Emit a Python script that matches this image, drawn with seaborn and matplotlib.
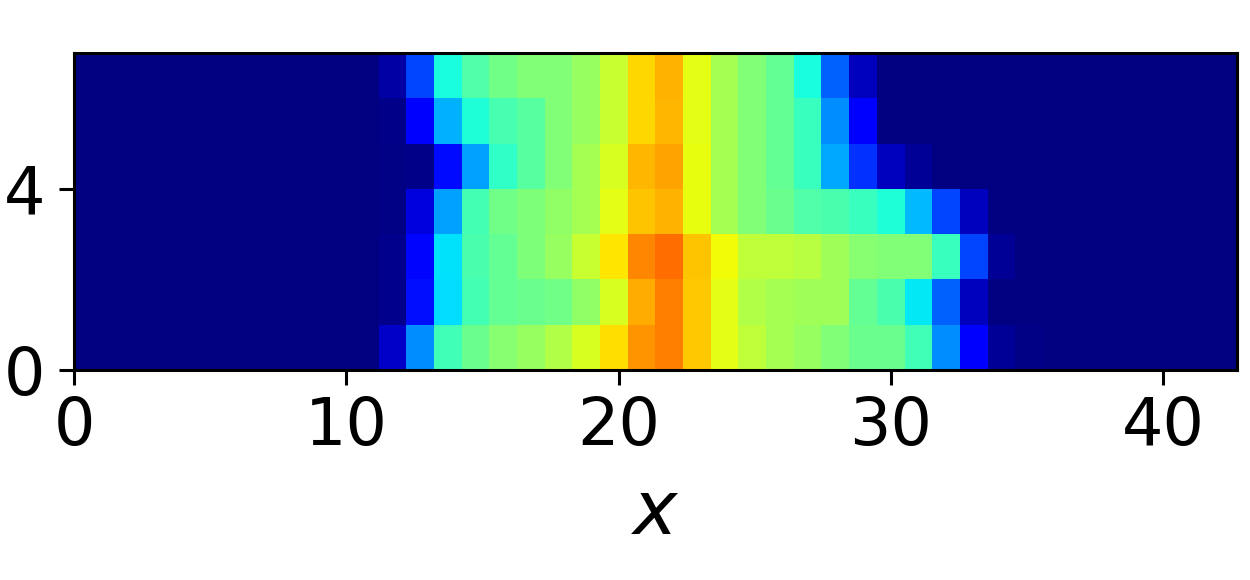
import matplotlib
matplotlib.use("Agg")
import matplotlib.pyplot as plt
import numpy as np
import seaborn as sns

# cell values (normalised 0..1, jet colormap), rows listed from y=0 upward
row_0 = [0, 0, 0, 0, 0, 0, 0, 0, 0, 0, 0,
         0.065, 0.265, 0.428, 0.48, 0.515, 0.535, 0.563, 0.613, 0.673, 0.753, 0.775, 0.697,
         0.625, 0.58, 0.55, 0.535, 0.505, 0.48, 0.48, 0.428, 0.265, 0.115, 0.02, 0.005,
         0, 0, 0, 0, 0, 0, 0]
row_1 = [0, 0, 0, 0, 0, 0, 0, 0, 0, 0, 0,
         0.012, 0.14, 0.34, 0.43, 0.47, 0.48, 0.485, 0.525, 0.613, 0.73, 0.775, 0.697,
         0.625, 0.563, 0.55, 0.545, 0.545, 0.47, 0.44, 0.353, 0.22, 0.055, 0.003, 0,
         0, 0, 0, 0, 0, 0, 0]
row_2 = [0, 0, 0, 0, 0, 0, 0, 0, 0, 0, 0,
         0.015, 0.13, 0.345, 0.44, 0.47, 0.5, 0.535, 0.593, 0.665, 0.767, 0.794, 0.70,
         0.643, 0.58, 0.58, 0.572, 0.545, 0.515, 0.505, 0.505, 0.418, 0.195, 0.02, 0,
         0, 0, 0, 0, 0, 0, 0]
row_3 = [0, 0, 0, 0, 0, 0, 0, 0, 0, 0, 0,
         0.005, 0.083, 0.282, 0.43, 0.486, 0.5, 0.525, 0.55, 0.625, 0.70, 0.72, 0.632,
         0.55, 0.505, 0.48, 0.447, 0.44, 0.418, 0.39, 0.305, 0.195, 0.055, 0, 0,
         0, 0, 0, 0, 0, 0, 0]
row_4 = [0, 0, 0, 0, 0, 0, 0, 0, 0, 0, 0,
         0.005, 0.01, 0.135, 0.282, 0.41, 0.457, 0.505, 0.55, 0.613, 0.715, 0.737, 0.632,
         0.55, 0.505, 0.47, 0.418, 0.29, 0.172, 0.055, 0.02, 0, 0, 0, 0,
         0, 0, 0, 0, 0, 0, 0]
row_5 = [0, 0, 0, 0, 0, 0, 0, 0, 0, 0, 0,
         0.01, 0.12, 0.297, 0.39, 0.435, 0.457, 0.505, 0.535, 0.593, 0.68, 0.715, 0.625,
         0.55, 0.505, 0.47, 0.418, 0.265, 0.115, 0, 0, 0, 0, 0, 0,
         0, 0, 0, 0, 0, 0, 0]
row_6 = [0, 0, 0, 0, 0, 0, 0, 0, 0, 0, 0,
         0.035, 0.195, 0.38, 0.447, 0.486, 0.505, 0.505, 0.535, 0.593, 0.68, 0.72, 0.625,
         0.55, 0.505, 0.47, 0.38, 0.22, 0.055, 0, 0, 0, 0, 0, 0,
         0, 0, 0, 0, 0, 0, 0]

x_max = 42.7          # data extent of the x axis
x_ticks = [0, 10, 20, 30, 40]
y_ticks = [0, 4]
x_label = "$x$"

grid = np.array([row_0, row_1, row_2, row_3, row_4, row_5, row_6])
n_rows, n_cols = grid.shape
cell_w = x_max / n_cols

fig = plt.figure(figsize=(6.25, 2.9), dpi=200)
ax = fig.add_axes([0.0592, 0.362, 0.9302, 0.5466])

sns.heatmap(grid, cmap="jet", vmin=0, vmax=1, cbar=False, ax=ax,
            xticklabels=False, yticklabels=False)
ax.set_ylim(0, n_rows)
ax.set_xlim(0, n_cols)

for s in ax.spines.values():
    s.set_visible(True)
    s.set_color("black")
    s.set_linewidth(1.1)

ax.set_xticks([t / cell_w for t in x_ticks])
ax.set_xticklabels([str(t) for t in x_ticks])
ax.set_yticks(y_ticks)
ax.set_yticklabels([str(t) for t in y_ticks], rotation=0)
ax.tick_params(axis="both", direction="out", length=5.4, width=1.1,
               colors="black", labelsize=23.5)
ax.tick_params(axis="x", pad=3.5)
ax.tick_params(axis="y", pad=5)
ax.set_xlabel(x_label, fontsize=27, labelpad=6.5)
ax.set_ylabel("")

fig.savefig("out.png", dpi=200)
plt.close(fig)
